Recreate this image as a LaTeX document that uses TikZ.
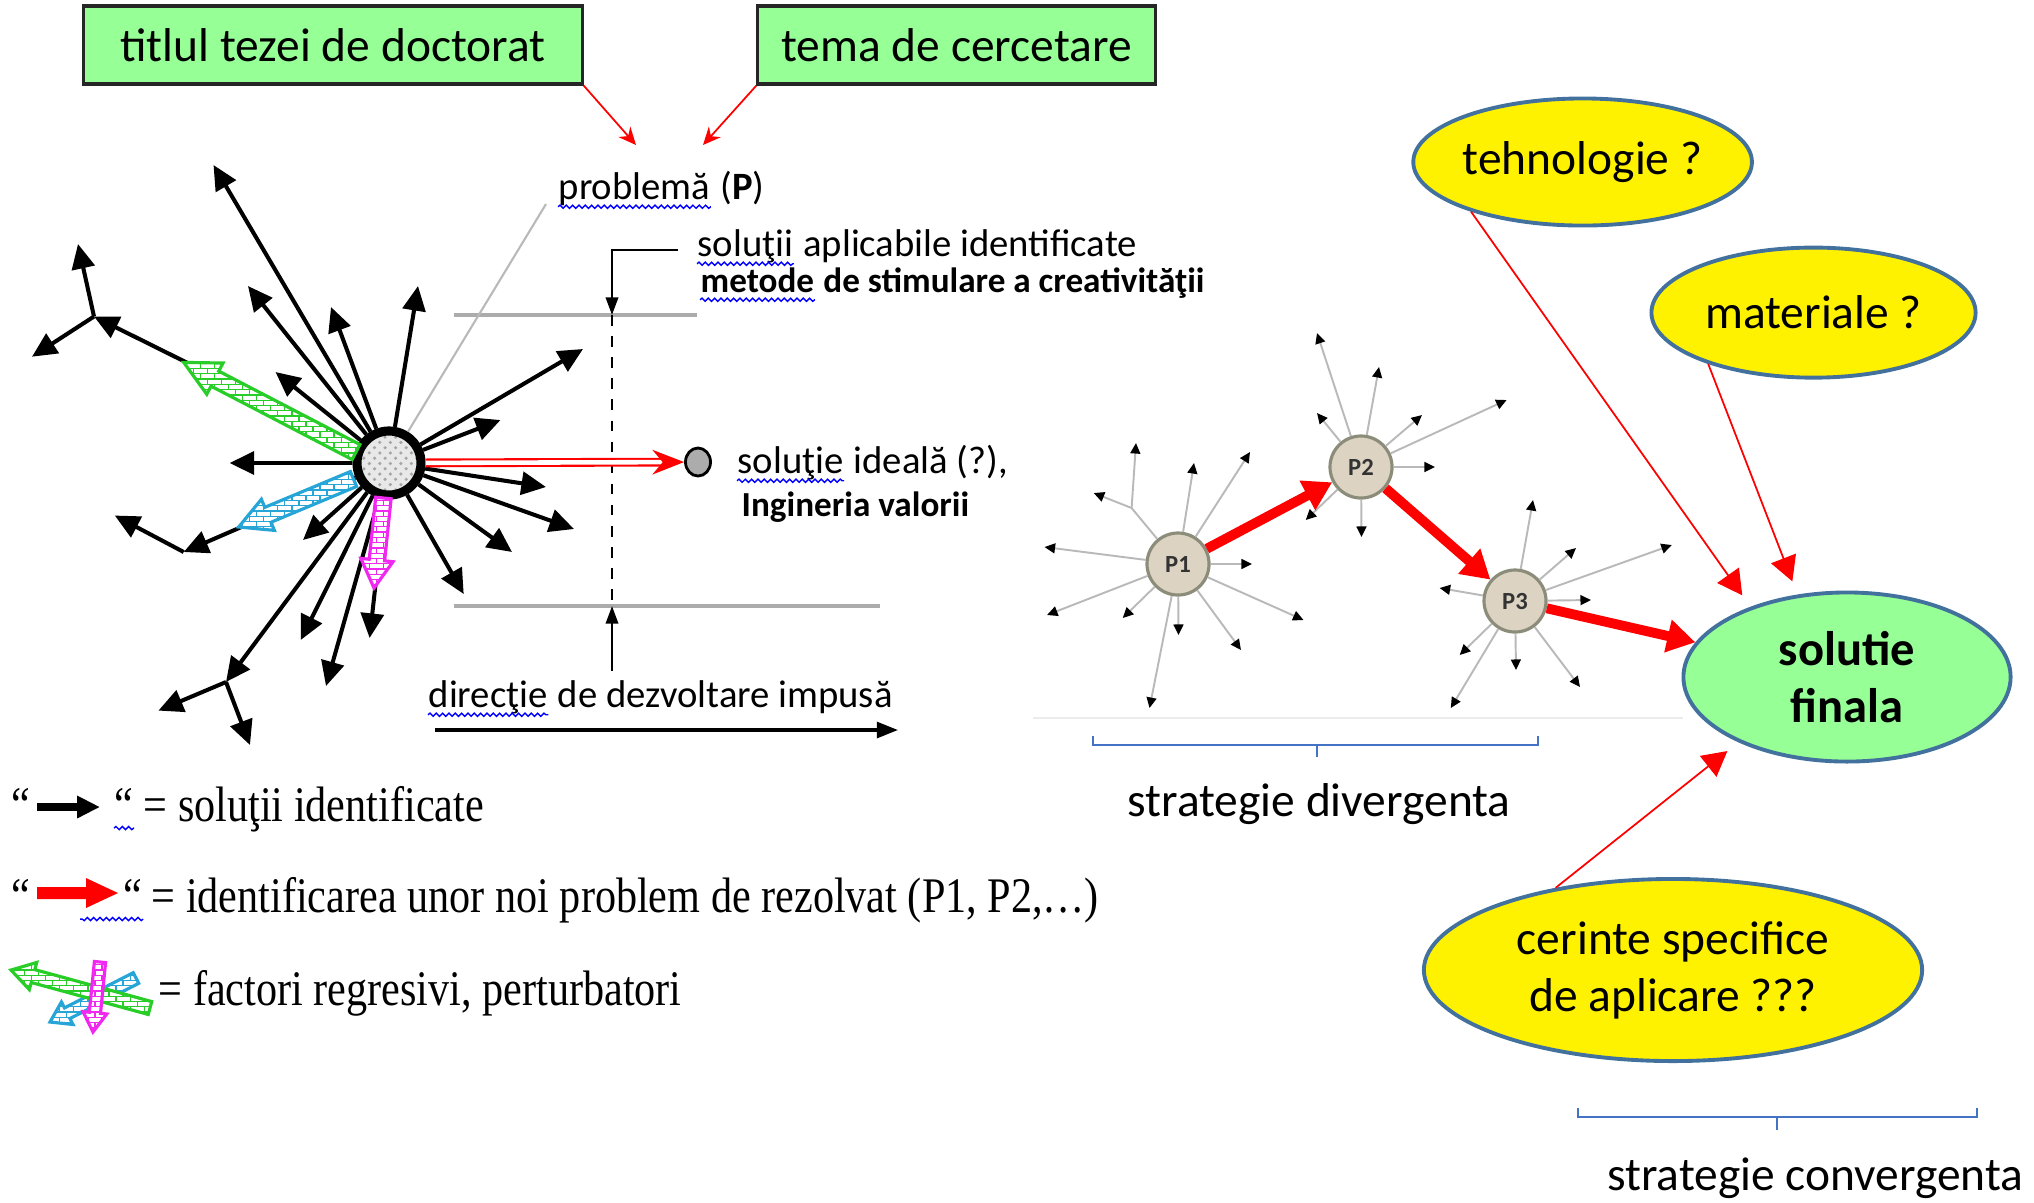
\documentclass[tikz,border=0pt]{standalone}
\usepackage{fontspec}
\setmainfont{Liberation Serif}
\newfontfamily\carl{Carlito}
\usetikzlibrary{arrows.meta,shapes.geometric,patterns,calc,decorations.pathmorphing}

\pgfdeclarepatternformonly{smallbricks}{\pgfpoint{-0.1pt}{-0.1pt}}{\pgfpoint{4.1pt}{3.1pt}}{\pgfpoint{4pt}{3pt}}{%
  \pgfsetlinewidth{0.35pt}%
  \pgfpathmoveto{\pgfpoint{0pt}{0pt}}\pgfpathlineto{\pgfpoint{4pt}{0pt}}%
  \pgfpathmoveto{\pgfpoint{0pt}{1.5pt}}\pgfpathlineto{\pgfpoint{4pt}{1.5pt}}%
  \pgfpathmoveto{\pgfpoint{1pt}{0pt}}\pgfpathlineto{\pgfpoint{1pt}{1.5pt}}%
  \pgfpathmoveto{\pgfpoint{3pt}{1.5pt}}\pgfpathlineto{\pgfpoint{3pt}{3pt}}%
  \pgfusepath{stroke}}

\definecolor{lgreen}{RGB}{150,255,150}
\definecolor{eblue}{RGB}{65,113,156}
\definecolor{bblue}{RGB}{68,114,196}
\definecolor{pfill}{RGB}{220,211,194}
\definecolor{pedge}{RGB}{140,140,122}
\definecolor{hgreen}{RGB}{40,205,40}
\definecolor{hblue}{RGB}{40,165,215}
\definecolor{hmag}{RGB}{240,40,240}

% start, end, colour, shaft half width, head half width, head length
\newcommand{\hatcharrow}[6]{%
  \coordinate (ha) at (#1);
  \coordinate (hb) at (#2);
  \coordinate (hh) at ($(hb)!#6!(ha)$);
  \path[draw=#3, line width=0.9pt, line join=miter, preaction={fill=white},
        pattern=smallbricks, pattern color=#3]
    ($(ha)!#4!90:(hb)$) -- ($(hh)!#4!-90:(ha)$) -- ($(hh)!#5!-90:(ha)$) -- (hb)
    -- ($(hh)!#5!90:(ha)$) -- ($(hh)!#4!90:(ha)$) -- ($(ha)!#4!-90:(hb)$) -- cycle;
}

\begin{document}
\begin{tikzpicture}[x=0.01cm, y=-0.01cm,
  box/.style={draw=black!85, line width=0.9pt, fill=lgreen, minimum height=0.78cm,
              inner sep=0pt, font=\carl\fontsize{13.5}{16}\selectfont},
  ell/.style={ellipse, draw=eblue, line width=1.1pt, fill=yellow, inner sep=0pt,
              align=center, font=\carl\fontsize{13.5}{16.2}\selectfont},
  txt/.style={inner sep=0pt, anchor=base west, font=\carl\fontsize{11}{13}\selectfont},
  btxt/.style={inner sep=0pt, anchor=base west, font=\carl\bfseries\fontsize{10}{12}\selectfont},
  leg/.style={inner sep=0pt, anchor=base west, font=\fontsize{12}{14}\selectfont},
  wavy/.style={draw=blue, line width=0.4pt, decorate,
               decoration={snake, amplitude=0.45pt, segment length=1.8pt}},
  ray/.style={line width=1.15pt, -{Triangle[length=7pt,width=6.5pt]}},
  pray/.style={draw=gray!55, line width=0.55pt, -{Triangle[length=3pt,width=2.8pt,color=black]}},
  prayline/.style={draw=gray!55, line width=0.55pt},
  pnode/.style={circle, draw=pedge, line width=0.9pt, fill=pfill, minimum size=0.62cm,
                inner sep=0pt, font=\carl\bfseries\fontsize{7}{8}\selectfont, text=black!80},
  bigred/.style={draw=red, line width=2.8pt, -{Triangle[length=8pt,width=9pt]}},
  tred/.style={draw=red, line width=0.5pt, -{Triangle[length=7pt,width=7.5pt]}, shorten >=4pt},
  topred/.style={draw=red, line width=0.5pt, -{Stealth[length=5pt,width=4.5pt]}},
  guide/.style={draw=gray!65, line width=0.9pt},
  pointer/.style={line width=0.7pt, -{Triangle[length=5pt,width=3.5pt]}},
  brace/.style={draw=bblue, line width=0.7pt}
]
\useasboundingbox (0,0) rectangle (2034,1202);

% ---------------- top boxes ----------------
\node[box, minimum width=4.98cm] (title) at (333,45) {titlul tezei de doctorat};
\node[box, minimum width=3.97cm] (tema) at (956.5,45) {tema de cercetare};
\coordinate (pa1) at (636,145);
\coordinate (pa2) at (703,145);
\draw[topred] (title.south east) -- (pa1);
\draw[topred] (tema.south west) -- (pa2);

% ---------------- guides ----------------
\coordinate (g1a) at (454,315); \coordinate (g1b) at (697,315);
\coordinate (g2a) at (454,606); \coordinate (g2b) at (880,606);
\draw[guide] (g1a) -- (g1b);
\draw[guide] (g2a) -- (g2b);
\coordinate (dtop) at (612,315); \coordinate (dbot) at (612,606);
\draw[dashed, line width=0.5pt] (dtop) -- (dbot);
\coordinate (brk) at (678,250); \coordinate (brkc) at (612,250);
\draw[pointer] (brk) -- (brkc) -- (dtop);
\coordinate (bup) at (612,671);
\draw[pointer] (bup) -- (dbot);
\coordinate (dira) at (435,730); \coordinate (dirb) at (898,730);
\draw[line width=0.9pt, -{Triangle[length=6pt,width=4.5pt]}] (dira) -- (dirb);

% ---------------- texts of the left part ----------------
\node[txt] (prob) at (558,199) {problemă};
\node[txt] (probb) at (prob.base east) {\ (\textbf{P})};
\draw[wavy] ([yshift=-2.2pt]prob.base west) -- ([yshift=-2.2pt]prob.base east);

\node[txt] (sol1) at (697,256) {soluţii};
\node[txt] (sol1b) at (sol1.base east) {\ aplicabile identificate};
\draw[wavy] ([yshift=-2.2pt]sol1.base west) -- ([yshift=-2.2pt]sol1.base east);
\node[btxt] (met) at (700,292) {metode};
\node[btxt] (metb) at (met.base east) {\ de stimulare a creativităţii};
\draw[wavy] ([yshift=-2.2pt]met.base west) -- ([yshift=-2.2pt]met.base east);

\node[txt] (sid) at (737,473) {soluţie};
\node[txt] (sidb) at (sid.base east) {\ ideală (?),};
\draw[wavy] ([yshift=-2.2pt]sid.base west) -- ([yshift=-2.2pt]sid.base east);
\node[btxt] (ing) at (741,516) {Ingineria valorii};

\node[txt] (dir) at (428,707) {direcţie};
\node[txt] (dirt) at (dir.base east) {\ de dezvoltare impusă};
\draw[wavy] ([yshift=-2.2pt]dir.base west) -- ([yshift=-2.2pt]dir.base east);

% ---------------- star of solutions ----------------
\node[circle, draw, line width=2.6pt, minimum size=0.64cm, inner sep=0pt,
      preaction={fill=gray!18}, pattern=crosshatch dots, pattern color=gray!70] (star) at (389,463) {};
\node[ellipse, draw, line width=0.8pt, fill=gray!65, minimum width=0.25cm,
      minimum height=0.28cm, inner sep=0pt] (ideal) at (698,462) {};

\coordinate (pp) at (546,204);
\draw[draw=gray!55, line width=0.6pt] (pp) -- (star);

\foreach \p in {(213.5,165),(248,286),(331,307),(418,286),(275.5,372),(583,349),
                (500.5,420),(229.6,463),(546,487),(574,529),(512,552),(463.7,594),
                (369.6,638),(326,686),(300.7,640),(303,540)}
  \draw[ray] (star) -- \p;

\coordinate (brA) at (94,316.5);
\coordinate (brB) at (183.7,552);
\coordinate (brC) at (226,682);
\draw[ray] (star) -- (brA);
\draw[ray] (brA) -- (78,244);
\draw[ray] (brA) -- (32,356.7);
\draw[ray] (star) -- (brB);
\draw[ray] (brB) -- (114.8,515.5);
\draw[ray] (star) -- (brC);
\draw[ray] (brC) -- (158.4,710.6);
\draw[ray] (brC) -- (250,745);

\draw[draw=red, line width=0.6pt, double=white, double distance=1.3pt,
      -{Stealth[length=9pt,width=7pt,color=red]}] (star) -- (ideal);

\hatcharrow{356,452}{183.7,362.4}{hgreen}{2.4pt}{5pt}{10pt}
\hatcharrow{353.5,479}{238.7,527}{hblue}{2.3pt}{4.8pt}{9pt}
\hatcharrow{383.4,498}{374,588}{hmag}{2.2pt}{4.6pt}{8pt}

% ---------------- legend ----------------
\node[leg] (q1a) at (11,821) {\scalebox{1}[1.18]{“}};
\coordinate (la1) at (37,807); \coordinate (la2) at (100,807);
\draw[line width=2.2pt, -{Triangle[length=6.5pt,width=6pt]}] (la1) -- (la2);
\node[leg] (q1b) at (114,821) {\scalebox{1}[1.18]{“}};
\draw[wavy] ([yshift=-2pt]q1b.base west) -- ([yshift=-2pt]q1b.base east);
\node[leg] (l1) at (143,821) {\scalebox{1}[1.18]{= soluţii identificate}};

\node[leg] (q2a) at (11,912) {\scalebox{1}[1.18]{“}};
\fill[red] (37,887) -- (86,887) -- (86,878) -- (118,893) -- (86,908) -- (86,899) -- (37,899) -- cycle;
\node[leg] (q2b) at (123,912) {\scalebox{1}[1.18]{“}};
\draw[wavy] ([yshift=-2pt]q2b.base east) -- ++(-63,0);
\node[leg] (l2) at (151,912) {\scalebox{1}[1.18]{= identificarea unor noi problem de rezolvat (P1, P2,…)}};

\hatcharrow{136,978}{50,1022}{hblue}{1.7pt}{3.6pt}{5.5pt}
\hatcharrow{150,1008}{11,970}{hgreen}{1.9pt}{4pt}{6.5pt}
\hatcharrow{100,962}{93,1032}{hmag}{1.6pt}{3.4pt}{5.5pt}
\node[leg] (l3) at (158,1005) {\scalebox{1}[1.18]{= factori regresivi, perturbatori}};

% ---------------- divergent strategy ----------------
\coordinate (bl1) at (1033,718); \coordinate (bl2) at (1683,718);
\draw[draw=gray!15, line width=0.8pt] (bl1) -- (bl2);

\node[pnode] (P1) at (1178,564) {P1};
\node[pnode] (P2) at (1361,467) {P2};
\node[pnode] (P3) at (1515,601) {P3};

\foreach \p in {(1194,463),(1250,452),(1252,564),(1044.5,547),(1047,615),(1122.7,618),
                (1178.5,635),(1149.5,708),(1241,650),(1303.5,620)}
  \draw[pray] (P1) -- \p;
\coordinate (pb1) at (1131.6,508);
\draw[prayline] (P1) -- (pb1);
\draw[pray] (pb1) -- (1136,443);
\draw[pray] (pb1) -- (1093.7,493);
\foreach \p in {(1317,333),(1379,367),(1317,413),(1422,415),(1506.6,400),(1435,467),
                (1305.7,520),(1361.5,537)}
  \draw[pray] (P2) -- \p;
\foreach \p in {(1533,500),(1576,548),(1671.8,545),(1591,600),(1439.6,588),(1459.7,655),
                (1450.8,708),(1516,670),(1580,687)}
  \draw[pray] (P3) -- \p;

% ---------------- right ellipses ----------------
\node[ell, minimum width=3.26cm, minimum height=1.27cm] (tehno) at (1582.6,162) {tehnologie ?};
\node[ell, minimum width=3.24cm, minimum height=1.30cm] (mat) at (1813.5,312.6) {materiale ?};
\node[ell, fill=lgreen, minimum width=3.27cm, minimum height=1.69cm,
      font=\carl\bfseries\fontsize{13.8}{16}\selectfont] (sol) at (1847,677) {solutie\\finala};
\node[ell, minimum width=4.98cm, minimum height=1.82cm] (cer) at (1673,970) {cerinte specifice\\de aplicare ???};

\draw[bigred] (P1) -- (P2);
\draw[bigred] (P2) -- (P3);
\draw[bigred] (P3) -- (sol);

\draw[tred] (tehno.204) -- (sol.144);
\draw[tred] (mat.206) -- (sol.121);
\draw[tred] (cer.145) -- (sol.211);

% ---------------- braces ----------------
\coordinate (d1) at (1093,736); \coordinate (d2) at (1093,745);
\coordinate (d3) at (1538,745); \coordinate (d4) at (1538,736);
\coordinate (dm) at (1317,745); \coordinate (dt) at (1317,757);
\draw[brace] (d1) -- (d2) -- (d3) -- (d4);
\draw[brace] (dm) -- (dt);
\node[inner sep=0pt, font=\carl\fontsize{13.5}{16}\selectfont] (div) at (1319,804) {strategie divergenta};

\coordinate (c1) at (1578,1108); \coordinate (c2) at (1578,1117);
\coordinate (c3) at (1977,1117); \coordinate (c4) at (1977,1108);
\coordinate (cm) at (1777,1117); \coordinate (ct) at (1777,1130);
\draw[brace] (c1) -- (c2) -- (c3) -- (c4);
\draw[brace] (cm) -- (ct);
\node[inner sep=0pt, anchor=east, font=\carl\fontsize{13.5}{16}\selectfont] (conv) at (2024,1178) {strategie convergenta};
\end{tikzpicture}
\end{document}
